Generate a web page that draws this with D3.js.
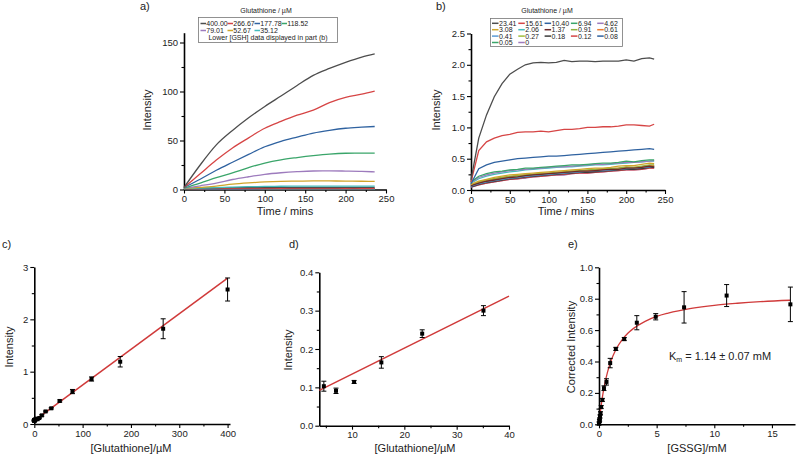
<!DOCTYPE html>
<html lang="en">
<head>
<meta charset="UTF-8">
<title>Glutathione assay</title>
<style>
  body { margin: 0; background: #fff; }
  svg { font-family: "Liberation Sans", Arial, sans-serif; }
  .axis path, .axis line { stroke: #000; }
  .axis path { stroke-width: 1.6; }
  .axis line { stroke-width: 1.1; }
  .axis text { font-size: 9.5px; fill: #222; }
  .curve { fill: none; stroke-width: 1.3; }
  .title { font-size: 11px; fill: #222; }
  .legend text { font-size: 7px; fill: #222; }
</style>
</head>
<body>
<svg id="fig" width="798" height="456"></svg>
<script src="https://cdn.jsdelivr.net/npm/d3@7"></script>
<script>
// ---------- panel a: high [GSH] time courses ----------
const timesA = [0, 20, 40, 60, 80, 100, 120, 140, 160, 180, 200, 220, 236];
const labelsA = ["400.00", "266.67", "177.78", "118.52", "79.01", "52.67", "35.12"];
const colorsA = ["#4d4d4d", "#d64545", "#2f62a0", "#3aa56a", "#9d7bbd", "#cfa52a", "#45bcbc"];
const valuesA = [
  [2, 25, 45.5, 60.2, 73.2, 84.7, 95.4, 106.2, 116.4, 123.5, 129.8, 135.2, 138.4],
  [2, 16, 30, 42.4, 52.7, 62.5, 69.5, 75.8, 81, 88.7, 94, 97.3, 100.3],
  [2, 10.5, 19.6, 27.8, 35.8, 43.6, 49.2, 53.5, 57.6, 60.4, 62.5, 63.6, 64.3],
  [1.5, 6.5, 12, 17, 22.3, 27, 30.3, 32.6, 34.6, 36.2, 37, 37.1, 37.1],
  [1.2, 3.8, 6.6, 10.2, 13, 15.5, 17.1, 18.2, 18.9, 19, 18.8, 18.5, 18],
  [1, 2.2, 3.5, 5.4, 6.7, 7.7, 8.3, 8.5, 8.7, 8.7, 8.6, 8.4, 8.2],
  [0.8, 1.5, 2, 2.5, 2.9, 3.1, 3.3, 3.4, 3.4, 3.4, 3.4, 3.4, 3.4]
];

// ---------- panel b: low [GSH] time courses ----------
const timesB = [0, 10, 20, 30, 40, 50, 60, 70, 80, 90, 100, 110, 120, 130, 140, 150, 160, 170, 180, 190, 200, 210, 220, 230, 236];
const labelsB = ["23.41", "15.61", "10.40", "6.94", "4.62", "3.08", "2.06", "1.37", "0.91", "0.61",
                 "0.41", "0.27", "0.18", "0.12", "0.08", "0.05", "0"];
const colorsB = ["#4d4d4d", "#d64545", "#2f62a0", "#3aa56a", "#9d7bbd", "#cfa52a", "#45bcbc", "#6e2a2a",
                 "#8fb040", "#ec7c30", "#5b9bd5", "#9fbe3a", "#3c3c3c", "#d64545", "#2f62a0", "#3aa56a", "#9d7bbd"];
const valuesB = [
  [0.16, 0.83, 1.20, 1.49, 1.70, 1.85, 1.93, 2.00, 2.03, 2.04, 2.03, 2.04, 2.07, 2.05, 2.06, 2.06, 2.05, 2.06, 2.06, 2.06, 2.08, 2.06, 2.10, 2.11, 2.09],
  [0.13, 0.63, 0.77, 0.83, 0.87, 0.89, 0.92, 0.93, 0.93, 0.94, 0.93, 0.95, 0.97, 0.97, 0.98, 1.00, 1.00, 1.01, 1.01, 1.02, 1.04, 1.04, 1.03, 1.02, 1.05],
  [0.10, 0.34, 0.40, 0.44, 0.46, 0.48, 0.50, 0.51, 0.52, 0.53, 0.54, 0.54, 0.55, 0.56, 0.57, 0.58, 0.59, 0.60, 0.61, 0.62, 0.63, 0.64, 0.65, 0.66, 0.65],
  [0.13, 0.22, 0.26, 0.29, 0.30, 0.32, 0.33, 0.35, 0.35, 0.36, 0.37, 0.38, 0.39, 0.40, 0.40, 0.41, 0.42, 0.43, 0.43, 0.44, 0.46, 0.45, 0.47, 0.48, 0.48],
  [0.12, 0.20, 0.24, 0.27, 0.29, 0.31, 0.32, 0.33, 0.34, 0.35, 0.36, 0.37, 0.37, 0.38, 0.39, 0.40, 0.41, 0.41, 0.42, 0.43, 0.44, 0.44, 0.45, 0.46, 0.47],
  [0.09, 0.14, 0.17, 0.20, 0.22, 0.24, 0.25, 0.26, 0.27, 0.28, 0.29, 0.30, 0.31, 0.32, 0.33, 0.34, 0.35, 0.35, 0.36, 0.38, 0.39, 0.39, 0.41, 0.43, 0.42],
  [0.11, 0.18, 0.22, 0.25, 0.27, 0.29, 0.30, 0.32, 0.33, 0.34, 0.35, 0.36, 0.37, 0.37, 0.38, 0.39, 0.40, 0.40, 0.41, 0.42, 0.43, 0.44, 0.45, 0.46, 0.46],
  [0.07, 0.11, 0.14, 0.16, 0.18, 0.20, 0.21, 0.23, 0.24, 0.25, 0.26, 0.27, 0.28, 0.29, 0.30, 0.30, 0.31, 0.32, 0.33, 0.33, 0.35, 0.35, 0.36, 0.38, 0.37],
  [0.08, 0.13, 0.16, 0.18, 0.20, 0.22, 0.23, 0.24, 0.25, 0.27, 0.27, 0.28, 0.29, 0.30, 0.31, 0.32, 0.33, 0.34, 0.34, 0.35, 0.37, 0.36, 0.38, 0.40, 0.40],
  [0.08, 0.12, 0.15, 0.18, 0.20, 0.21, 0.23, 0.24, 0.25, 0.26, 0.27, 0.28, 0.29, 0.30, 0.31, 0.31, 0.32, 0.33, 0.34, 0.35, 0.36, 0.36, 0.37, 0.39, 0.39],
  [0.06, 0.10, 0.13, 0.15, 0.17, 0.19, 0.20, 0.22, 0.23, 0.24, 0.25, 0.26, 0.27, 0.28, 0.29, 0.30, 0.31, 0.31, 0.32, 0.33, 0.34, 0.35, 0.36, 0.37, 0.38],
  [0.07, 0.12, 0.15, 0.17, 0.19, 0.21, 0.22, 0.23, 0.25, 0.26, 0.26, 0.27, 0.28, 0.29, 0.30, 0.31, 0.32, 0.33, 0.33, 0.34, 0.36, 0.35, 0.37, 0.39, 0.38],
  [0.05, 0.09, 0.12, 0.14, 0.16, 0.18, 0.19, 0.21, 0.22, 0.23, 0.24, 0.25, 0.26, 0.27, 0.28, 0.28, 0.29, 0.30, 0.31, 0.32, 0.33, 0.33, 0.34, 0.36, 0.36],
  [0.05, 0.08, 0.11, 0.13, 0.15, 0.17, 0.18, 0.20, 0.21, 0.22, 0.23, 0.24, 0.25, 0.26, 0.27, 0.27, 0.28, 0.29, 0.30, 0.31, 0.32, 0.32, 0.33, 0.35, 0.35],
  [0.05, 0.09, 0.12, 0.14, 0.16, 0.18, 0.19, 0.20, 0.22, 0.23, 0.24, 0.25, 0.25, 0.27, 0.28, 0.28, 0.30, 0.30, 0.31, 0.32, 0.33, 0.34, 0.35, 0.36, 0.37],
  [0.06, 0.10, 0.13, 0.15, 0.17, 0.19, 0.20, 0.22, 0.23, 0.24, 0.25, 0.26, 0.27, 0.28, 0.29, 0.29, 0.30, 0.31, 0.32, 0.33, 0.34, 0.34, 0.35, 0.37, 0.37],
  [0.04, 0.08, 0.11, 0.13, 0.15, 0.17, 0.18, 0.19, 0.21, 0.22, 0.23, 0.24, 0.24, 0.26, 0.27, 0.27, 0.28, 0.29, 0.30, 0.31, 0.32, 0.32, 0.33, 0.35, 0.35]
];

// ---------- panels c, d: intensity vs [GSH] ----------
const gshConc = [400, 266.67, 177.78, 118.52, 79.01, 52.67, 35.12, 23.41, 15.61, 10.40, 6.94, 4.62,
                 3.08, 2.06, 1.37, 0.91, 0.61, 0.41, 0.27, 0.18, 0.12, 0.08, 0.05, 0];
const gshIntensity = [2.57, 1.82, 1.19, 0.86, 0.62, 0.44, 0.30, 0.24, 0.165, 0.114, 0.091, 0.103,
                      0.09, 0.085, 0.08, 0.075, 0.08, 0.07, 0.075, 0.07, 0.065, 0.07, 0.065, 0.06];
const gshError = [0.22, 0.19, 0.10, 0.04, 0.04, 0.02, 0.013, 0.01, 0.015, 0.004, 0.007, 0.013,
                  0.01, 0.01, 0.01, 0.01, 0.01, 0.01, 0.01, 0.01, 0.01, 0.01, 0.01, 0.01];
const fitC = { x: [0, 400], y: [0.066, 2.786] };
const fitD = { x: [3.75, 40], y: [0.092, 0.338] };

// ---------- panel e: GSSG ----------
const gssgConc = [16.6, 11.07, 7.38, 4.92, 3.28, 2.19, 1.46, 0.97, 0.65, 0.43, 0.29, 0.19, 0.13, 0.085, 0.057, 0.038, 0];
const gssgIntensity = [0.764, 0.82, 0.745, 0.685, 0.647, 0.543, 0.48, 0.39, 0.27, 0.23, 0.155, 0.11, 0.07, 0.05, 0.03, 0.02, 0.005];
const gssgError = [0.11, 0.07, 0.10, 0.02, 0.045, 0.01, 0.01, 0.03, 0.02, 0.015, 0.01, 0.01, 0.01, 0.01, 0.01, 0.01, 0.01];
const fitE = {
  x: [0, 0.1, 0.25, 0.5, 0.75, 1, 1.5, 2, 2.5, 3, 4, 5, 6, 8, 10, 12, 14, 16.6],
  y: [0, 0.068, 0.152, 0.257, 0.335, 0.395, 0.481, 0.538, 0.580, 0.611, 0.656, 0.687, 0.708, 0.738, 0.758, 0.771, 0.781, 0.790]
};

const svg = d3.select("#fig");

function drawAxes(x, y, o) {
  const y0 = y.range()[0], x0 = x.range()[0];
  svg.append("g").attr("class", "axis")
    .attr("transform", "translate(0," + y0 + ")")
    .call(d3.axisBottom(x).tickValues(o.xt).tickSize(4).tickPadding(2).tickSizeOuter(0).tickFormat(o.xf || d3.format("d")));
  svg.append("g").attr("class", "axis")
    .attr("transform", "translate(0," + y0 + ")")
    .call(d3.axisBottom(x).tickValues(o.xm).tickSize(2.5).tickFormat(""))
    .select(".domain").remove();
  svg.append("g").attr("class", "axis")
    .attr("transform", "translate(" + x0 + ",0)")
    .call(d3.axisLeft(y).tickValues(o.yt).tickSize(4).tickPadding(2).tickSizeOuter(0).tickFormat(o.yf || d3.format("d")));
  svg.append("g").attr("class", "axis")
    .attr("transform", "translate(" + x0 + ",0)")
    .call(d3.axisLeft(y).tickValues(o.ym).tickSize(2.5).tickFormat(""))
    .select(".domain").remove();
}

function label(txt, x, y, rot, cls) {
  const t = svg.append("text").attr("class", cls || "title").attr("text-anchor", "middle").text(txt);
  if (rot) t.attr("transform", "translate(" + x + "," + y + ") rotate(-90)");
  else t.attr("x", x).attr("y", y);
  return t;
}

function points(x, y, xs, ys, es) {
  const g = svg.append("g");
  xs.forEach((d, i) => {
    const cx = x(d), top = y(ys[i] + es[i]), bot = y(ys[i] - es[i]);
    g.append("line").attr("x1", cx).attr("x2", cx).attr("y1", top).attr("y2", bot).attr("stroke", "#000").attr("stroke-width", 1);
    [top, bot].forEach(v => g.append("line").attr("x1", cx - 2.5).attr("x2", cx + 2.5).attr("y1", v).attr("y2", v).attr("stroke", "#000").attr("stroke-width", 1));
    g.append("rect").attr("x", cx - 2).attr("y", y(ys[i]) - 2).attr("width", 4).attr("height", 4).attr("fill", "#000");
  });
}

// ===== a =====
const xA = d3.scaleLinear().domain([0, 250]).range([184, 386]);
const yA = d3.scaleLinear().domain([0, 160]).range([189.5, 32.7]);
drawAxes(xA, yA, {
  xt: [0, 50, 100, 150, 200, 250], xm: [25, 75, 125, 175, 225],
  yt: [0, 50, 100, 150], ym: [25, 75, 125]
});
const lineA = d3.line().x((d, i) => xA(timesA[i])).y(d => yA(d)).curve(d3.curveMonotoneX);
const lineAB = d3.line().x((d, i) => xA(timesB[i])).y(d => yA(d));
valuesB.slice().reverse().forEach((s, k) => {
  svg.append("path").attr("class", "curve").attr("d", lineAB(s)).attr("stroke", colorsB[colorsB.length - 1 - k]);
});
valuesA.slice().reverse().forEach((s, k) => {
  svg.append("path").attr("class", "curve").attr("d", lineA(s)).attr("stroke", colorsA[colorsA.length - 1 - k]);
});
label("Intensity", 151, 110, true);
label("Time / mins", 285, 215);
svg.append("text").attr("class", "title").attr("x", 140).attr("y", 10).text("a)");

// legend a
const legA = svg.append("g").attr("class", "legend");
legA.append("text").attr("x", 266).attr("y", 13).attr("text-anchor", "middle").text("Glutathione / µM");
legA.append("rect").attr("x", 198.5).attr("y", 17.5).attr("width", 139).attr("height", 25).attr("fill", "#fff").attr("stroke", "#777").attr("stroke-width", 0.8);
labelsA.forEach((l, i) => {
  const col = i % 4, row = Math.floor(i / 4);
  const lx = 200.5 + col * 27, ly = 23.5 + row * 7;
  legA.append("line").attr("x1", lx).attr("x2", lx + 5.5).attr("y1", ly).attr("y2", ly).attr("stroke", colorsA[i]).attr("stroke-width", 1.5);
  legA.append("text").attr("x", lx + 5.8).attr("y", ly + 2.5).text(l);
});
legA.append("text").attr("x", 268).attr("y", 40).attr("text-anchor", "middle").text("Lower [GSH] data displayed in part (b)");

// ===== b =====
const xB = d3.scaleLinear().domain([0, 250]).range([471, 665]);
const yB = d3.scaleLinear().domain([0, 2.5]).range([190, 33.5]);
drawAxes(xB, yB, {
  xt: [0, 50, 100, 150, 200, 250], xm: [25, 75, 125, 175, 225],
  yt: [0, 0.5, 1, 1.5, 2, 2.5], ym: [0.25, 0.75, 1.25, 1.75, 2.25], yf: d3.format(".1f")
});
const lineB = d3.line().x((d, i) => xB(timesB[i])).y(d => yB(d));
valuesB.slice().reverse().forEach((s, k) => {
  svg.append("path").attr("class", "curve").attr("d", lineB(s)).attr("stroke", colorsB[colorsB.length - 1 - k]);
});
label("Intensity", 440, 110, true);
label("Time / mins", 566, 215);
svg.append("text").attr("class", "title").attr("x", 436).attr("y", 10).text("b)");

// legend b
const legB = svg.append("g").attr("class", "legend");
legB.append("text").attr("x", 547).attr("y", 13).attr("text-anchor", "middle").text("Glutathione / µM");
legB.append("rect").attr("x", 490.5).attr("y", 18.5).attr("width", 132).attr("height", 28).attr("fill", "#fff").attr("stroke", "#777").attr("stroke-width", 0.8);
labelsB.forEach((l, i) => {
  const col = i % 5, row = Math.floor(i / 5);
  const lx = 492 + col * 26.3, ly = 23.3 + row * 6.4;
  legB.append("line").attr("x1", lx).attr("x2", lx + 6.5).attr("y1", ly).attr("y2", ly).attr("stroke", colorsB[i]).attr("stroke-width", 1.5);
  legB.append("text").attr("x", lx + 7).attr("y", ly + 2.5).text(l);
});

// ===== c =====
const xC = d3.scaleLinear().domain([0, 405]).range([34.3, 230]);
const yC = d3.scaleLinear().domain([0, 3]).range([424, 267]);
drawAxes(xC, yC, {
  xt: [0, 100, 200, 300, 400], xm: [50, 150, 250, 350],
  yt: [0, 1, 2, 3], ym: [0.5, 1.5, 2.5]
});
svg.append("line").attr("x1", xC(fitC.x[0])).attr("x2", xC(fitC.x[1])).attr("y1", yC(fitC.y[0])).attr("y2", yC(fitC.y[1]))
  .attr("stroke", "#d03a3a").attr("stroke-width", 1.5);
points(xC, yC, gshConc, gshIntensity, gshError);
label("Intensity", 13, 347, true);
label("[Glutathione]/µM", 131, 452);
svg.append("text").attr("class", "title").attr("x", 2).attr("y", 248).text("c)");

// ===== d =====
const xD = d3.scaleLinear().domain([3.75, 40]).range([319.3, 509]);
const yD = d3.scaleLinear().domain([0, 0.4]).range([425.7, 272.3]);
drawAxes(xD, yD, {
  xt: [10, 20, 30, 40], xm: [5, 15, 25, 35],
  yt: [0, 0.1, 0.2, 0.3, 0.4], ym: [0.05, 0.15, 0.25, 0.35], yf: d3.format(".1f")
});
svg.append("line").attr("x1", xD(fitD.x[0])).attr("x2", xD(fitD.x[1])).attr("y1", yD(fitD.y[0])).attr("y2", yD(fitD.y[1]))
  .attr("stroke", "#d03a3a").attr("stroke-width", 1.5);
const inD = gshConc.map((c, i) => i).filter(i => gshConc[i] >= 4 && gshConc[i] <= 40);
points(xD, yD, inD.map(i => gshConc[i]), inD.map(i => gshIntensity[i]), inD.map(i => gshError[i]));
label("Intensity", 292, 350, true);
label("[Glutathione]/µM", 415, 452);
svg.append("text").attr("class", "title").attr("x", 289).attr("y", 248).text("d)");

// ===== e =====
const xE = d3.scaleLinear().domain([0, 17]).range([599, 795]);
const yE = d3.scaleLinear().domain([0, 1]).range([424.3, 267.3]);
drawAxes(xE, yE, {
  xt: [0, 5, 10, 15], xm: [2.5, 7.5, 12.5],
  yt: [0, 0.2, 0.4, 0.6, 0.8, 1], ym: [0.1, 0.3, 0.5, 0.7, 0.9], yf: d3.format(".1f")
});
const lineE = d3.line().x((d, i) => xE(fitE.x[i])).y(d => yE(d)).curve(d3.curveMonotoneX);
svg.append("path").attr("class", "curve").attr("d", lineE(fitE.y)).attr("stroke", "#d03a3a").attr("stroke-width", 1.5);
points(xE, yE, gssgConc, gssgIntensity, gssgError);
label("Corrected Intensity", 575, 347, true);
label("[GSSG]/mM", 697, 452);
svg.append("text").attr("class", "title").attr("x", 568).attr("y", 248).text("e)");
const km = svg.append("text").attr("class", "title").attr("x", 669).attr("y", 360);
km.append("tspan").text("K");
km.append("tspan").attr("font-size", "7px").attr("dy", 1.5).text("m");
km.append("tspan").attr("dy", -1.5).text(" = 1.14 ± 0.07 mM");
</script>
</body>
</html>
